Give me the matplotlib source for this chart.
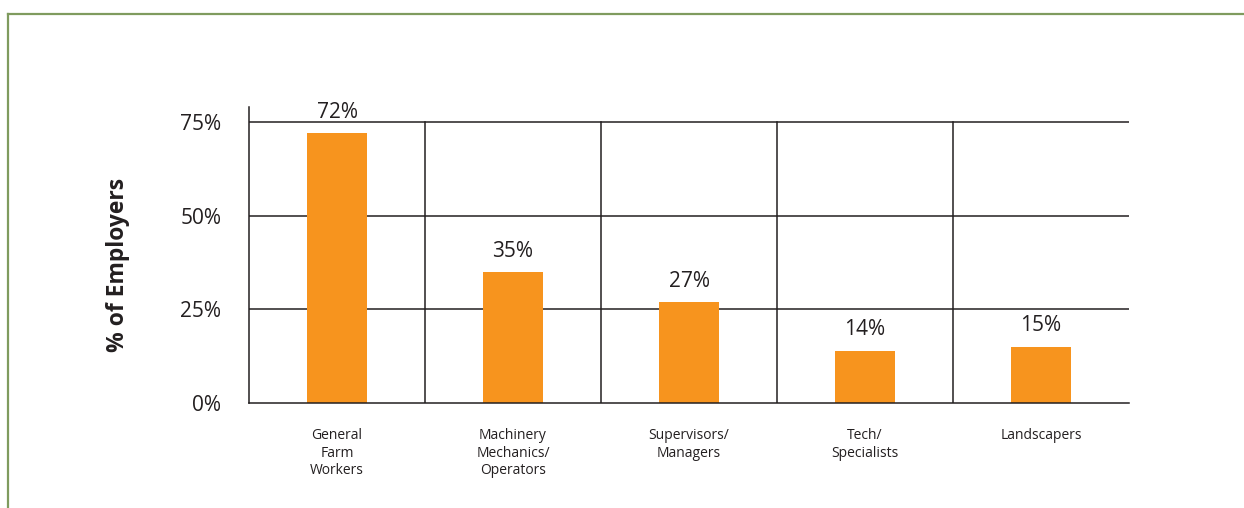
import matplotlib
matplotlib.use("Agg")
import matplotlib.pyplot as plt
from matplotlib.lines import Line2D

categories = ["General\nFarm\nWorkers", "Machinery\nMechanics/\nOperators",
              "Supervisors/\nManagers", "Tech/\nSpecialists", "Landscapers"]
values = [72, 35, 27, 14, 15]
value_labels = ["72%", "35%", "27%", "14%", "15%"]
y_ticks = [0, 25, 50, 75]
y_tick_labels = ["0%", "25%", "50%", "75%"]

plt.rcParams['font.family'] = ['Open Sans', 'DejaVu Sans']

W, H = 1244, 508
fig = plt.figure(figsize=(W / 100, H / 100), dpi=100)

# axes spanning the plotting region (pixel coordinates converted to figure fractions)
x0, x1 = 249, 1129
y_bottom, y_top = 403, 107
ax = fig.add_axes([x0 / W, 1 - y_bottom / H, (x1 - x0) / W, (y_bottom - y_top) / H])

n = len(categories)
ax.set_xlim(0, n)
ymax = 75 * (y_bottom - y_top) / (403 - 122)
ax.set_ylim(0, ymax)

orange = "#F7941E"
grid_c = "#231F20"
centers = [i + 0.5 for i in range(n)]
ax.bar(centers, values, width=0.34, color=orange, zorder=2)

# horizontal gridlines
for t in y_ticks[1:]:
    ax.axhline(t, color=grid_c, lw=1.1, zorder=1)
# vertical category dividers
for i in range(1, n):
    ax.plot([i, i], [0, 75], color=grid_c, lw=1.1, zorder=1)

for c, v, lab in zip(centers, values, value_labels):
    ax.annotate(lab, (c, v), xytext=(0, 15), textcoords="offset points",
                ha="center", va="center", fontsize=15, color="#231F20")

for s in ["top", "right"]:
    ax.spines[s].set_visible(False)
ax.spines["left"].set_color(grid_c)
ax.spines["bottom"].set_color(grid_c)
ax.spines["left"].set_linewidth(1.1)
ax.spines["bottom"].set_linewidth(1.1)

ax.set_yticks(y_ticks)
ax.set_yticklabels(y_tick_labels, fontsize=15, color="#231F20")
ax.tick_params(axis="y", length=0, pad=20)
ax.set_xticks(centers)
ax.set_xticklabels(categories, fontsize=10, color="#231F20", linespacing=1.25)
ax.tick_params(axis="x", length=0, pad=18)
for lbl in ax.get_xticklabels():
    lbl.set_va("top")

fig.text(118 / W, 1 - 265 / H, "% of Employers", rotation=90, ha="center", va="center",
         fontsize=16.5, fontweight="bold", color="#231F20")

# green frame along top and left edges
green = "#7F9B5E"
fig.add_artist(Line2D([8 / W, 1], [1 - 14 / H, 1 - 14 / H], color=green, lw=1.6,
                      transform=fig.transFigure))
fig.add_artist(Line2D([8 / W, 8 / W], [0, 1 - 14 / H], color=green, lw=1.6,
                      transform=fig.transFigure))

fig.savefig("out.png", dpi=100, facecolor="white")
